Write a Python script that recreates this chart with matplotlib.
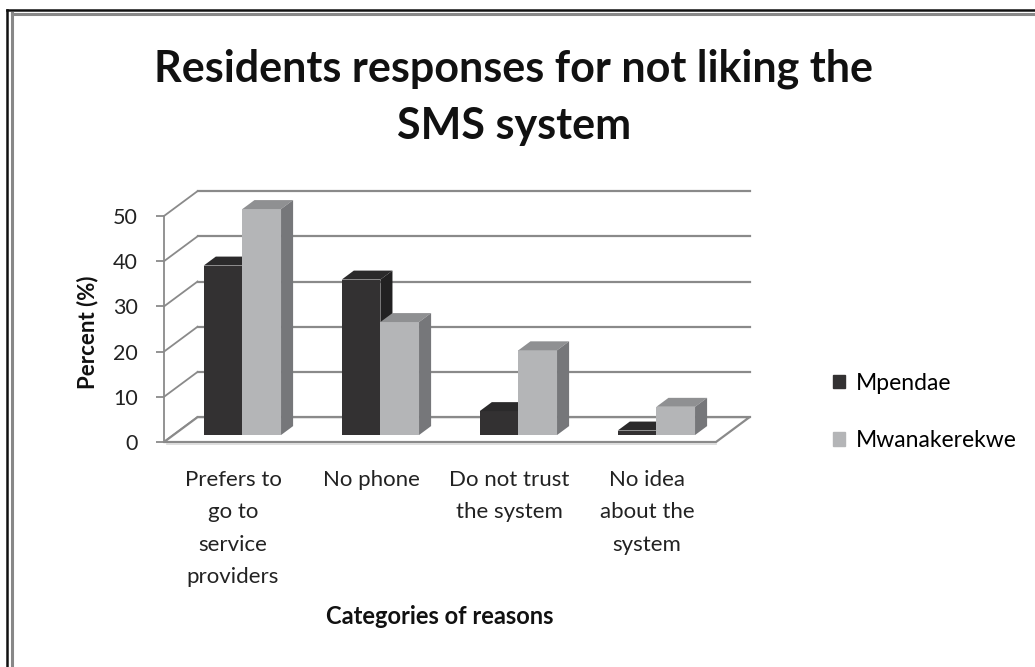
import matplotlib.pyplot as plt
from matplotlib.patches import Polygon
from matplotlib.lines import Line2D

plt.rcParams['font.family'] = ['Lato', 'DejaVu Sans']

categories = ["Prefers to\ngo to\nservice\nproviders", "No phone",
              "Do not trust\nthe system", "No idea\nabout the\nsystem"]
series_names = ["Mpendae", "Mwanakerekwe"]
mpendae = [37.5, 34.4, 5.3, 1.0]
mwanakerekwe = [50.0, 25.0, 18.75, 6.25]
yticks = [0, 10, 20, 30, 40, 50]

# oblique "3d" look: depth z in [0,1] moves (DX, DY) in data units
DX, DY = 0.243, 5.5
Z0, Z1 = 0.28, 0.64
W = 0.28
grid_c = '#8a8a8a'
faces = {
    "Mpendae": ('#333132', '#2b2a2b', '#222122'),
    "Mwanakerekwe": ('#b4b5b7', '#8f9092', '#76777a'),
}

fig = plt.figure(figsize=(10.35, 6.67), dpi=100)
ax = fig.add_axes([140 / 1035, (667 - 450) / 667, 620 / 1035, 270 / 667])
ax.set_xlim(-0.5 - 24 / 138, -0.5 + 596 / 138)
ax.set_ylim(-8 / 4.52, 262 / 4.52)

n = len(categories)
x0, x1 = -0.5, n - 0.5

# back wall gridlines and left wall diagonals
for v in yticks:
    ax.plot([x0 + DX, x1 + DX], [v + DY, v + DY], color=grid_c, lw=1.6, zorder=1)
    ax.plot([x0, x0 + DX], [v, v + DY], color=grid_c, lw=1.3, zorder=1)

# floor
floor = Polygon([(x0, 0), (x1, 0), (x1 + DX, DY), (x0 + DX, DY)],
                closed=True, facecolor='white', edgecolor=grid_c, lw=1.6, zorder=2)
ax.add_patch(floor)
ax.plot([x0 + 0.02, x1], [-0.35, -0.35], color='#d8d8d8', lw=1.2, zorder=2)


def draw_bars(vals, offset, name):
    front, top, side = faces[name]
    lefts = [i + offset + Z0 * DX for i in range(n)]
    ax.bar(lefts, vals, width=W, bottom=Z0 * DY, align='edge',
           color=front, edgecolor='none', zorder=3)
    dx = (Z1 - Z0) * DX
    dy = (Z1 - Z0) * DY
    for l, v in zip(lefts, vals):
        r = l + W
        yb = Z0 * DY
        yt = yb + v
        ax.add_patch(Polygon([(l, yt), (r, yt), (r + dx, yt + dy), (l + dx, yt + dy)],
                             closed=True, facecolor=top, edgecolor='none', zorder=3))
        ax.add_patch(Polygon([(r, yb), (r + dx, yb + dy), (r + dx, yt + dy), (r, yt)],
                             closed=True, facecolor=side, edgecolor='none', zorder=3))


draw_bars(mpendae, -W, "Mpendae")
draw_bars(mwanakerekwe, 0.0, "Mwanakerekwe")

# axes styling
for s in ['top', 'right']:
    ax.spines[s].set_visible(False)
ax.spines['left'].set_position(('data', x0))
ax.spines['left'].set_bounds(0, 50)
ax.spines['left'].set_color(grid_c)
ax.spines['left'].set_linewidth(1.3)
ax.spines['bottom'].set_visible(False)
ax.spines['bottom'].set_position(('data', 0))
ax.set_yticks(yticks)
ax.set_yticklabels([str(t) for t in yticks], fontsize=15.5, color='#222222')
ax.tick_params(axis='y', length=6, width=1.3, color=grid_c, pad=13)
ax.set_xticks(range(n))
ax.set_xticklabels(categories, fontsize=16, color='#222222', linespacing=1.78)
ax.tick_params(axis='x', length=0, pad=20)
ax.set_facecolor('none')

fig.text(88 / 1035, 1 - 332 / 667, "Percent (%)", rotation=90, ha='center', va='center',
         fontsize=16, fontweight='bold', color='#111111')
fig.text(440 / 1035, 1 - 617 / 667, "Categories of reasons", ha='center', va='center',
         fontsize=17, fontweight='bold', color='#111111')
fig.text(514 / 1035, 1 - 97 / 667, "Residents responses for not liking the\nSMS system",
         ha='center', va='center', fontsize=31, fontweight='bold', color='#111111',
         linespacing=1.5)

# legend
ax.legend(handles=[plt.Rectangle((0, 0), 1, 1, color=faces[k][0]) for k in series_names],
          labels=series_names, loc='center left', bbox_to_anchor=(812 / 1035, 1 - 412 / 667),
          bbox_transform=fig.transFigure, frameon=False, fontsize=16.5,
          handlelength=0.55, handleheight=0.55, handletextpad=0.45, labelspacing=1.6)

# double frame on top/left
fig.add_artist(Line2D([7 / 1035, 7 / 1035], [0, 1 - 10 / 667], color='#111111', lw=1.8,
                      transform=fig.transFigure))
fig.add_artist(Line2D([7 / 1035, 1], [1 - 10 / 667, 1 - 10 / 667], color='#111111', lw=1.8,
                      transform=fig.transFigure))
fig.add_artist(Line2D([11.5 / 1035, 11.5 / 1035], [0, 1 - 13 / 667], color='#888888', lw=2.2,
                      transform=fig.transFigure))
fig.add_artist(Line2D([11.5 / 1035, 1], [1 - 13.5 / 667, 1 - 13.5 / 667], color='#888888', lw=2.2,
                      transform=fig.transFigure))

fig.savefig('out.png', dpi=100)
